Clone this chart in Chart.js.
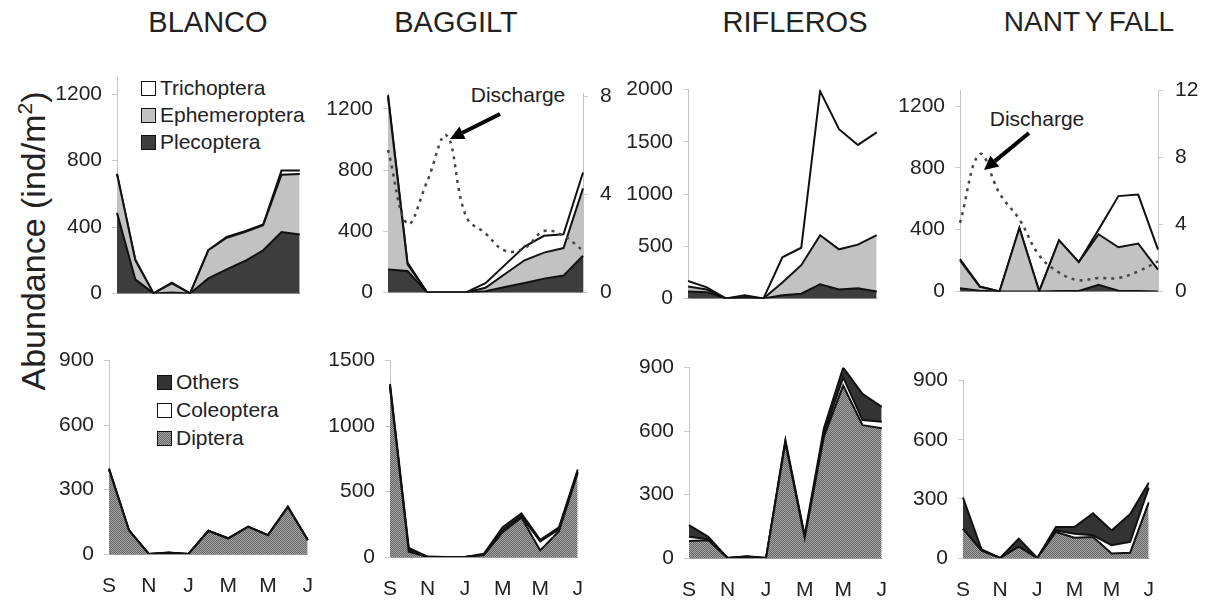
<!DOCTYPE html>
<html>
<head>
<meta charset="utf-8">
<script src="https://cdn.jsdelivr.net/npm/chart.js@4.4.1/dist/chart.umd.min.js"></script>
<style>
body { margin: 0; background: #fff; }
#page { position: relative; width: 1207px; height: 603px; overflow: hidden; font-family: "Liberation Sans", Arial, sans-serif; color: #222; }
.site { position: absolute; top: 6px; font-size: 29px; line-height: 32px; transform: translateX(-50%); white-space: nowrap; }
canvas.panel { position: absolute; }
.leg { position: absolute; font-size: 21px; }
.leg div { white-space: nowrap; }
.box { display: inline-block; width: 13px; height: 13px; border: 1.5px solid #111; vertical-align: -1px; margin-right: 4px; }
.note { position: absolute; font-size: 21px; line-height: 24px; transform: translate(-50%, -50%); white-space: nowrap; }
#ytitle { position: absolute; left: 33px; top: 241px; font-size: 34px; white-space: nowrap; transform: translate(-50%, -50%) rotate(-90deg); }
#ytitle sup { font-size: 21px; }
svg { position: absolute; left: 0; top: 0; }
</style>
</head>
<body>
<div id="page">
  <div class="site" style="left:208px">BLANCO</div>
  <div class="site" style="left:456px">BAGGILT</div>
  <div class="site" style="left:795px">RIFLEROS</div>
  <div class="site" style="left:1089px; font-size:28px; word-spacing:-2px">NANT Y FALL</div>
  <div id="ytitle">Abundance (ind/m<sup>2</sup>)</div>

  <div class="leg" style="left:141px; top:74px; line-height:27px">
    <div><span class="box" style="background:#fff"></span>Trichoptera</div>
    <div><span class="box" style="background:#c2c2c2"></span>Ephemeroptera</div>
    <div><span class="box" style="background:#3d3d3d"></span>Plecoptera</div>
  </div>
  <div class="leg" style="left:157px; top:368px; line-height:28px">
    <div><span class="box" style="background:#333"></span>Others</div>
    <div><span class="box" style="background:#fff"></span>Coleoptera</div>
    <div><span class="box" style="background:repeating-conic-gradient(#666 0 25%, #a4a4a4 0 50%) 0 0/2px 2px"></span>Diptera</div>
  </div>

  <div class="note" style="left:518px; top:95px">Discharge</div>
  <div class="note" style="left:1037px; top:119px">Discharge</div>
</div>

<script>
var months = ['S', 'O', 'N', 'D', 'J', 'F', 'M', 'A', 'M', 'J', 'J'];

// tick values shown on the axes
var eptTicks = [0, 400, 800, 1200];
var riflerosTicks = [0, 500, 1000, 1500, 2000];
var lowTicks = [0, 300, 600, 900];
var baggiltLowTicks = [0, 500, 1000, 1500];
var baggiltQTicks = [0, 4, 8];
var nantQTicks = [0, 4, 8, 12];

// upper row: EPT taxa (ind/m2)
var blancoPleco = [485, 85, 0, 5, 0, 90, 145, 195, 260, 370, 355];
var blancoEphem = [235, 115, 0, 55, 0, 170, 190, 175, 150, 345, 365];
var blancoTricho = [0, 5, 0, 5, 0, 0, 5, 5, 5, 25, 20];

var baggiltPleco = [150, 140, 0, 0, 0, 8, 35, 62, 90, 110, 240];
var baggiltEphem = [1130, 45, 0, 0, 0, 22, 85, 148, 170, 180, 440];
var baggiltTricho = [10, 10, 0, 0, 0, 30, 60, 90, 110, 90, 104];

var riflerosPleco = [65, 60, 0, 5, 0, 30, 45, 136, 85, 97, 67];
var riflerosEphem = [50, 25, 0, 10, 0, 122, 273, 470, 385, 418, 539];
var riflerosTricho = [52, 21, 0, 15, 0, 242, 167, 1379, 1151, 955, 985];

var nantPleco = [20, 5, 0, 0, 0, 2, 3, 42, 5, 3, 0];
var nantEphem = [180, 25, 0, 410, 0, 328, 187, 328, 281, 307, 141];
var nantTricho = [10, 2, 0, 0, 0, 0, 0, 30, 331, 317, 129];

// discharge (right axis)
var baggiltDischarge = [5.8, 2.8, 4.5, 6.4, 3.1, 2.4, 1.7, 1.8, 2.5, 2.3, 1.7];
var nantDischarge = [4.1, 8.2, 5.85, 4.3, 2.15, 1.13, 0.67, 0.8, 0.8, 1.2, 1.8];

// lower row
var blancoDiptera = [394, 110, 0, 6, 0, 107, 72, 126, 87, 218, 64];
var blancoColeo = [0, 0, 0, 0, 0, 0, 0, 0, 0, 0, 0];
var blancoOthers = [4, 2, 0, 1, 0, 2, 2, 2, 2, 3, 2];

var baggiltDiptera = [1300, 40, 0, 0, 0, 15, 190, 302, 50, 197, 643];
var baggiltColeo = [5, 10, 0, 0, 0, 3, 10, 8, 70, 15, 5];
var baggiltOthers = [18, 20, 3, 0, 0, 7, 27, 23, 11, 15, 20];

var riflerosDiptera = [80, 84, 0, 6, 0, 545, 95, 574, 815, 628, 613];
var riflerosColeo = [20, 4, 0, 1, 0, 3, 3, 15, 39, 24, 31];
var riflerosOthers = [55, 12, 0, 1, 0, 10, 9, 24, 46, 124, 70];

var nantDiptera = [148, 37, 0, 57, 0, 132, 103, 107, 23, 27, 282];
var nantColeo = [0, 0, 0, 0, 0, 8, 20, 8, 42, 55, 75];
var nantOthers = [159, 6, 0, 41, 0, 17, 34, 112, 75, 141, 25];

Chart.defaults.font.family = '"Liberation Sans", Arial, sans-serif';
Chart.defaults.font.size = 21;
Chart.defaults.color = '#222';

function stipple() {
    var c = document.createElement('canvas');
    c.width = 2; c.height = 2;
    var g = c.getContext('2d');
    g.fillStyle = '#a4a4a4';
    g.fillRect(0, 0, 2, 2);
    g.fillStyle = '#666';
    g.fillRect(0, 0, 1, 1);
    g.fillRect(1, 1, 1, 1);
    return g.createPattern(c, 'repeat');
}

function area(label, data, color, fill) {
    return {
        label: label, data: data, backgroundColor: color, borderColor: '#111',
        borderWidth: 2, fill: fill, pointRadius: 0, tension: 0
    };
}

function eptSets(pleco, ephem, tricho) {
    return [
        area('Plecoptera', pleco, '#3d3d3d', 'origin'),
        area('Ephemeroptera', ephem, '#c2c2c2', '-1'),
        area('Trichoptera', tricho, '#ffffff', '-1')
    ];
}

function otherSets(diptera, coleo, others) {
    return [
        area('Diptera', diptera, stipple(), 'origin'),
        area('Coleoptera', coleo, '#ffffff', '-1'),
        area('Others', others, '#333333', '-1')
    ];
}

function fixTicks(values) {
    return function (s) {
        s.ticks = values.map(function (v) { return { value: v }; });
    };
}

function makePanel(p) {
    var padL = 75, padT = 20;
    var padR = p.qTicks ? 55 : 15;
    var padB = p.bottom ? 45 : 14;
    var w = p.r - p.l + padL + padR;
    var h = p.b - p.t + padT + padB;
    var canvas = document.createElement('canvas');
    canvas.className = 'panel';
    canvas.width = w;
    canvas.height = h;
    canvas.style.left = (p.l - padL) + 'px';
    canvas.style.top = (p.t - padT) + 'px';
    canvas.style.width = w + 'px';
    canvas.style.height = h + 'px';
    document.getElementById('page').appendChild(canvas);

    var datasets = p.sets;
    if (p.discharge) {
        datasets.push({
            label: 'Discharge', data: p.discharge, yAxisID: 'y1', borderColor: '#444',
            borderDash: [3, 5], borderWidth: 2.5, fill: false, pointRadius: 0,
            tension: 0.4, order: -1
        });
    }

    var scales = {
        x: {
            type: 'category',
            grid: { display: false, drawTicks: false },
            border: { color: '#999', width: 1 },
            ticks: {
                display: p.bottom, autoSkip: false, maxRotation: 0, padding: 20,
                callback: function (v, i) { return i % 2 === 0 ? months[i] : ''; }
            },
            afterFit: function (s) { s.height = padB; }
        },
        y: {
            stacked: true, min: 0, max: p.max,
            grid: { drawOnChartArea: false, tickLength: 5, color: '#ccc' },
            border: { color: '#c4c4c4', width: 1 },
            ticks: { padding: 10, callback: function (v) { return String(v); } },
            afterBuildTicks: fixTicks(p.ticks),
            afterFit: function (s) { s.width = padL; }
        }
    };
    if (p.qTicks) {
        scales.y1 = {
            position: 'right', min: 0, max: p.qMax,
            grid: { drawOnChartArea: false, tickLength: 5, color: '#ccc' },
            border: { color: '#c4c4c4', width: 1 },
            ticks: { padding: 12, callback: function (v) { return String(v); } },
            afterBuildTicks: fixTicks(p.qTicks),
            afterFit: function (s) { s.width = padR; }
        };
    }

    new Chart(canvas, {
        type: 'line',
        data: { labels: months, datasets: datasets },
        options: {
            responsive: false,
            animation: false,
            devicePixelRatio: 1,
            layout: { padding: { top: padT, left: 0, right: p.qTicks ? 0 : padR, bottom: 0 } },
            plugins: { legend: { display: false }, tooltip: { enabled: false } },
            scales: scales
        }
    });
}

document.addEventListener("DOMContentLoaded", function () {
    makePanel({ l: 117, r: 310, t: 75, b: 302, max: 1300, ticks: eptTicks,
        sets: eptSets(blancoPleco, blancoEphem, blancoTricho) });
    makePanel({ l: 388, r: 583, t: 89, b: 303, max: 1300, ticks: eptTicks, qMax: 8.1, qTicks: baggiltQTicks,
        discharge: baggiltDischarge, sets: eptSets(baggiltPleco, baggiltEphem, baggiltTricho) });
    makePanel({ l: 688, r: 887, t: 87, b: 307, max: 2000, ticks: riflerosTicks,
        sets: eptSets(riflerosPleco, riflerosEphem, riflerosTricho) });
    makePanel({ l: 960, r: 1158, t: 86, b: 302, max: 1300, ticks: eptTicks, qMax: 12, qTicks: nantQTicks,
        discharge: nantDischarge, sets: eptSets(nantPleco, nantEphem, nantTricho) });

    makePanel({ l: 109, r: 318, t: 358, b: 554, max: 900, ticks: lowTicks, bottom: true,
        sets: otherSets(blancoDiptera, blancoColeo, blancoOthers) });
    makePanel({ l: 390, r: 588, t: 358, b: 557, max: 1500, ticks: baggiltLowTicks, bottom: true,
        sets: otherSets(baggiltDiptera, baggiltColeo, baggiltOthers) });
    makePanel({ l: 689, r: 892, t: 365, b: 558, max: 900, ticks: lowTicks, bottom: true,
        sets: otherSets(riflerosDiptera, riflerosColeo, riflerosOthers) });
    makePanel({ l: 963, r: 1159, t: 378, b: 558, max: 900, ticks: lowTicks, bottom: true,
        sets: otherSets(nantDiptera, nantColeo, nantOthers) });

    // arrows pointing at the discharge peaks
    var ns = 'http://www.w3.org/2000/svg';
    var svg = document.createElementNS(ns, 'svg');
    svg.setAttribute('width', 1207);
    svg.setAttribute('height', 603);
    [[500, 114, 450, 139], [1029, 133, 984, 170]].forEach(function (a) {
        var dx = a[2] - a[0], dy = a[3] - a[1];
        var len = Math.sqrt(dx * dx + dy * dy);
        var ux = dx / len, uy = dy / len;
        var bx = a[2] - ux * 14, by = a[3] - uy * 14;
        var line = document.createElementNS(ns, 'line');
        line.setAttribute('x1', a[0]); line.setAttribute('y1', a[1]);
        line.setAttribute('x2', bx); line.setAttribute('y2', by);
        line.setAttribute('stroke', '#000'); line.setAttribute('stroke-width', 4);
        svg.appendChild(line);
        var head = document.createElementNS(ns, 'polygon');
        head.setAttribute('points', a[2] + ',' + a[3] + ' ' +
            (bx - uy * 7) + ',' + (by + ux * 7) + ' ' + (bx + uy * 7) + ',' + (by - ux * 7));
        head.setAttribute('fill', '#000');
        svg.appendChild(head);
    });
    document.getElementById('page').appendChild(svg);
});
</script>
</body>
</html>
